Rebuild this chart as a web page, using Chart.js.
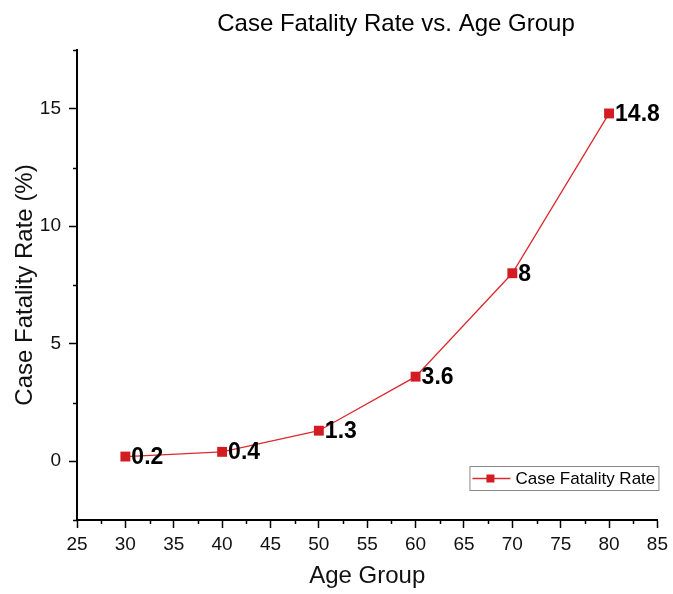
<!DOCTYPE html>
<html>
<head>
<meta charset="utf-8">
<title>Case Fatality Rate vs. Age Group</title>
<script src="https://cdn.jsdelivr.net/npm/chart.js@4.4.1/dist/chart.umd.min.js"></script>
<style>
  html, body { margin: 0; padding: 0; background: #fff; }
  #wrap { width: 673px; height: 594px; position: relative; }
</style>
</head>
<body>
<div id="wrap"><canvas id="cfrChart"></canvas></div>
<script>
// data
const ageGroups = [30, 40, 50, 60, 70, 80];
const fatalityRates = [0.2, 0.4, 1.3, 3.6, 8, 14.8];
const seriesLabel = 'Case Fatality Rate';
const chartTitle = 'Case Fatality Rate vs. Age Group';
const xAxisTitle = 'Age Group';
const yAxisTitle = 'Case Fatality Rate (%)';
const xRange = [25, 85];
const yRange = [-2.5, 17.5];

const FONT = '"Liberation Sans", Arial, sans-serif';
const RED = '#d21c22';
const LINE_RED = '#dc2a2f';

const isMajor = v => Math.abs(v / 5 - Math.round(v / 5)) < 1e-6;

// title, minor ticks, point labels and the boxed legend
const extras = {
    id: 'extras',
    afterDraw(chart) {
        const ctx = chart.ctx;
        const area = chart.chartArea;
        const xs = chart.scales.x;
        const ys = chart.scales.y;
        ctx.save();

        // title
        ctx.fillStyle = '#000';
        ctx.font = '24px ' + FONT;
        ctx.textAlign = 'center';
        ctx.textBaseline = 'middle';
        ctx.fillText(chartTitle, 396, 24);

        // minor ticks
        ctx.strokeStyle = '#000';
        ctx.lineWidth = 1.5;
        ctx.beginPath();
        xs.ticks.forEach(t => {
            if (isMajor(t.value)) return;
            const px = Math.round(xs.getPixelForValue(t.value)) + 0.5;
            ctx.moveTo(px, area.bottom);
            ctx.lineTo(px, area.bottom + 4);
        });
        ys.ticks.forEach(t => {
            if (isMajor(t.value)) return;
            const py = Math.round(ys.getPixelForValue(t.value)) + 0.5;
            ctx.moveTo(area.left, py);
            ctx.lineTo(area.left - 4, py);
        });
        ctx.stroke();

        // point labels
        const meta = chart.getDatasetMeta(0);
        ctx.font = 'bold 23px ' + FONT;
        ctx.textAlign = 'left';
        ctx.fillStyle = '#000';
        meta.data.forEach((pt, i) => {
            ctx.fillText(String(fatalityRates[i]), pt.x + 6, pt.y + 1);
        });

        // legend box
        const bx = area.right - 188, by = area.bottom - 54, bw = 189, bh = 24;
        ctx.fillStyle = '#fff';
        ctx.fillRect(bx, by, bw, bh);
        ctx.strokeStyle = '#8a8a8a';
        ctx.lineWidth = 1;
        ctx.strokeRect(bx + 0.5, by + 0.5, bw, bh);
        const ly = by + bh / 2 + 0.5;
        ctx.strokeStyle = LINE_RED;
        ctx.lineWidth = 1.3;
        ctx.beginPath();
        ctx.moveTo(bx + 3, ly);
        ctx.lineTo(bx + 41, ly);
        ctx.stroke();
        ctx.fillStyle = RED;
        ctx.fillRect(bx + 17, ly - 4, 8, 8);
        ctx.fillStyle = '#000';
        ctx.font = '17px ' + FONT;
        ctx.textBaseline = 'middle';
        ctx.fillText(seriesLabel, bx + 46, ly + 0.5);

        ctx.restore();
    }
};

const ctx = document.getElementById('cfrChart').getContext('2d');
new Chart(ctx, {
    type: 'line',
    data: {
        datasets: [{
            label: seriesLabel,
            data: ageGroups.map((a, i) => ({ x: a, y: fatalityRates[i] })),
            borderColor: LINE_RED,
            backgroundColor: RED,
            borderWidth: 1.3,
            tension: 0,
            fill: false,
            pointStyle: 'rect',
            pointRadius: 7,
            pointBorderWidth: 0,
            pointBackgroundColor: RED,
            clip: false
        }]
    },
    options: {
        responsive: true,
        maintainAspectRatio: false,
        animation: false,
        layout: { padding: { top: 50, right: 11, left: 0, bottom: 0 } },
        plugins: {
            legend: { display: false },
            title: { display: false },
            tooltip: { enabled: false }
        },
        scales: {
            x: {
                type: 'linear',
                min: xRange[0],
                max: xRange[1],
                afterFit(scale) { scale.height = 74; },
                border: { display: true, color: '#000', width: 2 },
                grid: {
                    drawOnChartArea: false,
                    drawTicks: true,
                    tickLength: 8,
                    tickWidth: 1.5,
                    tickColor: c => isMajor(c.tick.value) ? '#000' : 'rgba(0,0,0,0)'
                },
                ticks: {
                    stepSize: 2.5,
                    autoSkip: false,
                    maxRotation: 0,
                    padding: 5,
                    color: '#111',
                    font: { family: FONT, size: 19 },
                    callback: v => isMajor(v) ? String(Math.round(v)) : ''
                },
                title: {
                    display: true,
                    text: xAxisTitle,
                    color: '#111',
                    font: { family: FONT, size: 24 },
                    padding: { top: 0, bottom: 3 }
                }
            },
            y: {
                type: 'linear',
                min: yRange[0],
                max: yRange[1],
                afterFit(scale) { scale.width = 77; },
                border: { display: true, color: '#000', width: 2 },
                grid: {
                    drawOnChartArea: false,
                    drawTicks: true,
                    tickLength: 8,
                    tickWidth: 1.5,
                    tickColor: c => isMajor(c.tick.value) ? '#000' : 'rgba(0,0,0,0)'
                },
                ticks: {
                    stepSize: 2.5,
                    autoSkip: false,
                    padding: 8,
                    color: '#111',
                    font: { family: FONT, size: 19 },
                    callback: v => isMajor(v) ? String(Math.round(v)) : ''
                },
                title: {
                    display: true,
                    text: yAxisTitle,
                    color: '#111',
                    font: { family: FONT, size: 24 },
                    padding: { top: 11, bottom: 0 }
                }
            }
        }
    },
    plugins: [extras]
});
</script>
</body>
</html>
